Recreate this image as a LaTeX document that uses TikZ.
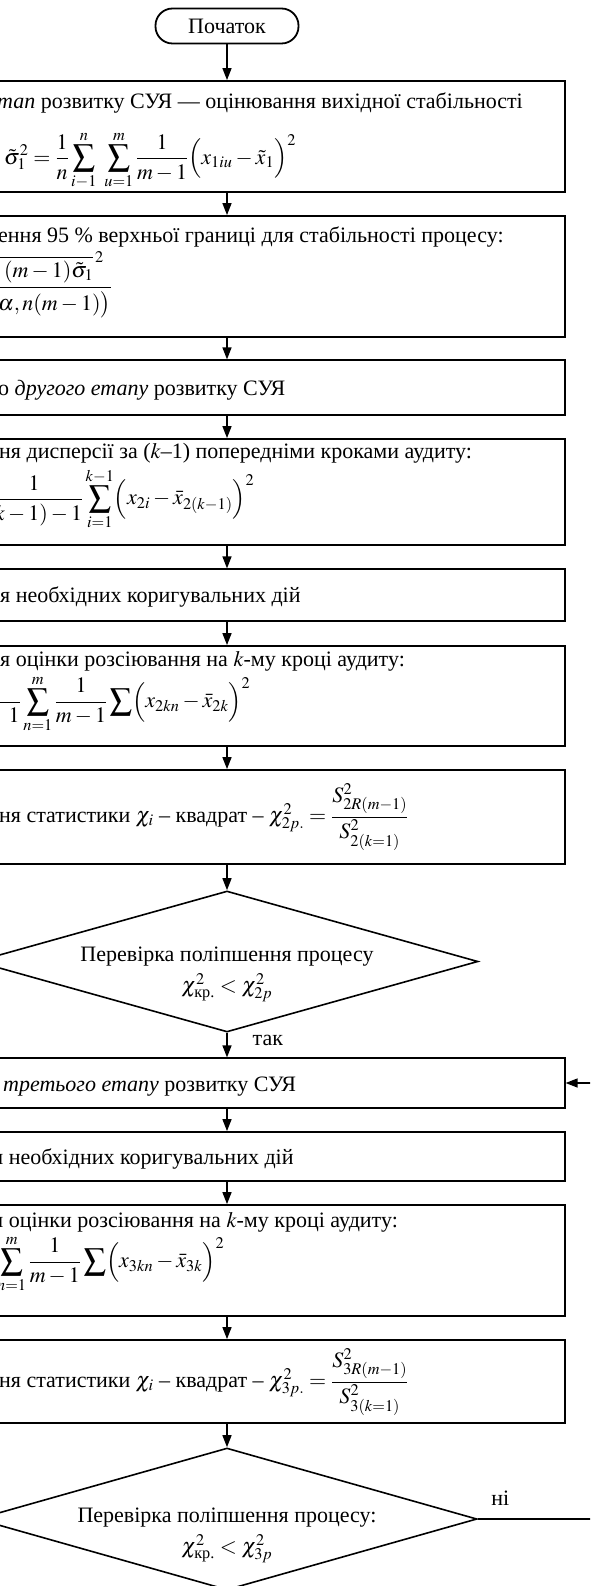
\documentclass[tikz,border=0pt]{standalone}
\usepackage{amsmath}
\usepackage{mathptmx}
\usepackage[no-math]{fontspec}
\setmainfont{Liberation Serif}
\usetikzlibrary{shapes.geometric,arrows.meta}
\tikzstyle{block}=[rectangle,draw,line width=1.8pt,minimum width=676pt,inner sep=0pt]
\tikzstyle{thinblock}=[block,line width=1.2pt]
\tikzstyle{decision}=[diamond,draw,line width=1.6pt,minimum width=502pt,minimum height=141pt,inner sep=0pt]
\tikzstyle{terminal}=[rectangle,rounded corners=17pt,draw,line width=1.8pt,minimum width=143pt,minimum height=35pt,inner sep=0pt]
\tikzstyle{txt}=[anchor=base west,inner sep=0pt]
\tikzstyle{formula}=[anchor=west,inner sep=0pt]
\tikzstyle{flow}=[draw,line width=1.4pt,-{Triangle[length=12pt,width=9pt]}]

\begin{document}
\begin{tikzpicture}[x=1pt,y=-1pt,font=\fontsize{22}{26}\selectfont]
\useasboundingbox (0,0) rectangle (590,1586);
\clip (0,0) rectangle (590,1586);

% blocks
\node[terminal] at (227,26) (start) {Початок};
\node[block,minimum height=111pt] at (227,136.5) (b1) {};
\node[block,minimum height=121pt] at (227,276.5) (b2) {};
\node[thinblock,minimum height=55pt] at (227,387.5) (b3) {};
\node[block,minimum height=106pt] at (227,492) (b4) {};
\node[thinblock,minimum height=52pt] at (227,595) (b5) {};
\node[block,minimum height=100pt] at (227,696) (b6) {};
\node[block,minimum height=94pt] at (227,817) (b7) {};
\node[decision] at (227,961.5) (d1) {};
\node[thinblock,minimum height=50pt] at (227,1083) (b8) {};
\node[block,minimum height=49pt] at (227,1156.5) (b9) {};
\node[block,minimum height=111pt] at (227,1260.5) (b10) {};
\node[block,minimum height=83pt] at (227,1381.5) (b11) {};
\node[decision,minimum width=500pt,minimum height=142pt] at (227,1519) (d2) {};

% texts
\node[txt] at (-3,109) (t1a) {\textit{тап} розвитку СУЯ — оцінювання вихідної стабільності};
\node[formula] at (4,161) (t1b) {$\displaystyle \tilde{\sigma}_1^2=\frac{1}{n}\sum_{i-1}^{n}\ \sum_{u=1}^{m}\frac{1}{m-1}\Bigl(x_{1iu}-\tilde{x}_1\Bigr)^2$};
\node[txt] at (-2,243) (t2a) {ення 95 \% верхньої границі для стабільності процесу:};
\node[formula] at (-8,286) (t2b) {\setlength{\arrayrulewidth}{1pt}\renewcommand{\arraystretch}{1.25}$\begin{array}{@{}l@{}}\overline{\hspace{12pt}(m-1)\tilde{\sigma}_1}^{\,2}\\\hline\hspace{6pt}\alpha,n(m-1)\bigr)\end{array}$};
\node[txt] at (-2,395) (t3) {о \textit{другого етапу} розвитку СУЯ};
\node[txt] at (-1,458) (t4a) {ня дисперсії за ($k$–1) попередніми кроками аудиту:};
\node[formula] at (-15,499) (t4b) {$\displaystyle\frac{1}{(k-1)-1}\sum_{i=1}^{k-1}\Bigl(x_{2i}-\bar{x}_{2(k-1)}\Bigr)^2$};
\node[txt] at (0,602) (t5) {я необхідних коригувальних дій};
\node[txt] at (0,666) (t6a) {я оцінки розсіювання на $k$-му кроці аудиту:};
\node[formula] at (-26,704) (t6b) {$\displaystyle\frac{\phantom{1}}{\phantom{k-{}}1}\sum_{n=1}^{m}\frac{1}{m-1}\sum\Bigl(x_{2kn}-\bar{x}_{2k}\Bigr)^2$};
\node[formula] at (-1,817) (t7) {ня статистики $\chi_i$ – квадрат – $\chi^2_{2p.}=\dfrac{S^2_{2R(m-1)}}{S^2_{2(k=1)}}$};
\node[txt] at (227,961) (t8a) [anchor=base] {Перевірка поліпшення процесу};
\node[txt] at (227,992) (t8b) [anchor=base] {$\chi^2_{\text{кр.}}<\chi^2_{2p}$};
\node[txt] at (3,1091) (t9) {\textit{третього етапу} розвитку СУЯ};
\node[txt] at (-7,1164) (t10) {я необхідних коригувальних дій};
\node[txt] at (-7,1227) (t11a) {я оцінки розсіювання на $k$-му кроці аудиту:};
\node[formula] at (-3,1264) (t11b) {$\displaystyle\sum_{n=1}^{m}\frac{1}{m-1}\sum\Bigl(x_{3kn}-\bar{x}_{3k}\Bigr)^2$};
\node[formula] at (-1,1382) (t12) {ня статистики $\chi_i$ – квадрат – $\chi^2_{3p.}=\dfrac{S^2_{3R(m-1)}}{S^2_{3(k=1)}}$};
\node[txt] at (227,1522) (t13a) [anchor=base] {Перевірка поліпшення процесу:};
\node[txt] at (227,1553) (t13b) [anchor=base] {$\chi^2_{\text{кр.}}<\chi^2_{3p}$};

% connectors
\coordinate (nr) at (610,1519);
\draw[flow] (start) -- (b1);
\draw[flow] (b1) -- (b2);
\draw[flow] (b2) -- (b3);
\draw[flow] (b3) -- (b4);
\draw[flow] (b4) -- (b5);
\draw[flow] (b5) -- (b6);
\draw[flow] (b6) -- (b7);
\draw[flow] (b7) -- (d1);
\draw[flow] (d1) -- node[pos=0.3,anchor=west,inner sep=0pt,xshift=25pt] (yes) {так} (b8);
\draw[flow] (b8) -- (b9);
\draw[flow] (b9) -- (b10);
\draw[flow] (b10) -- (b11);
\draw[flow] (b11) -- (d2);
\draw[flow] (d2.east) -- node[pos=0.17,anchor=base,inner sep=0pt,yshift=14pt] (no) {ні} (nr) |- (b8.east);

\end{tikzpicture}
\end{document}
